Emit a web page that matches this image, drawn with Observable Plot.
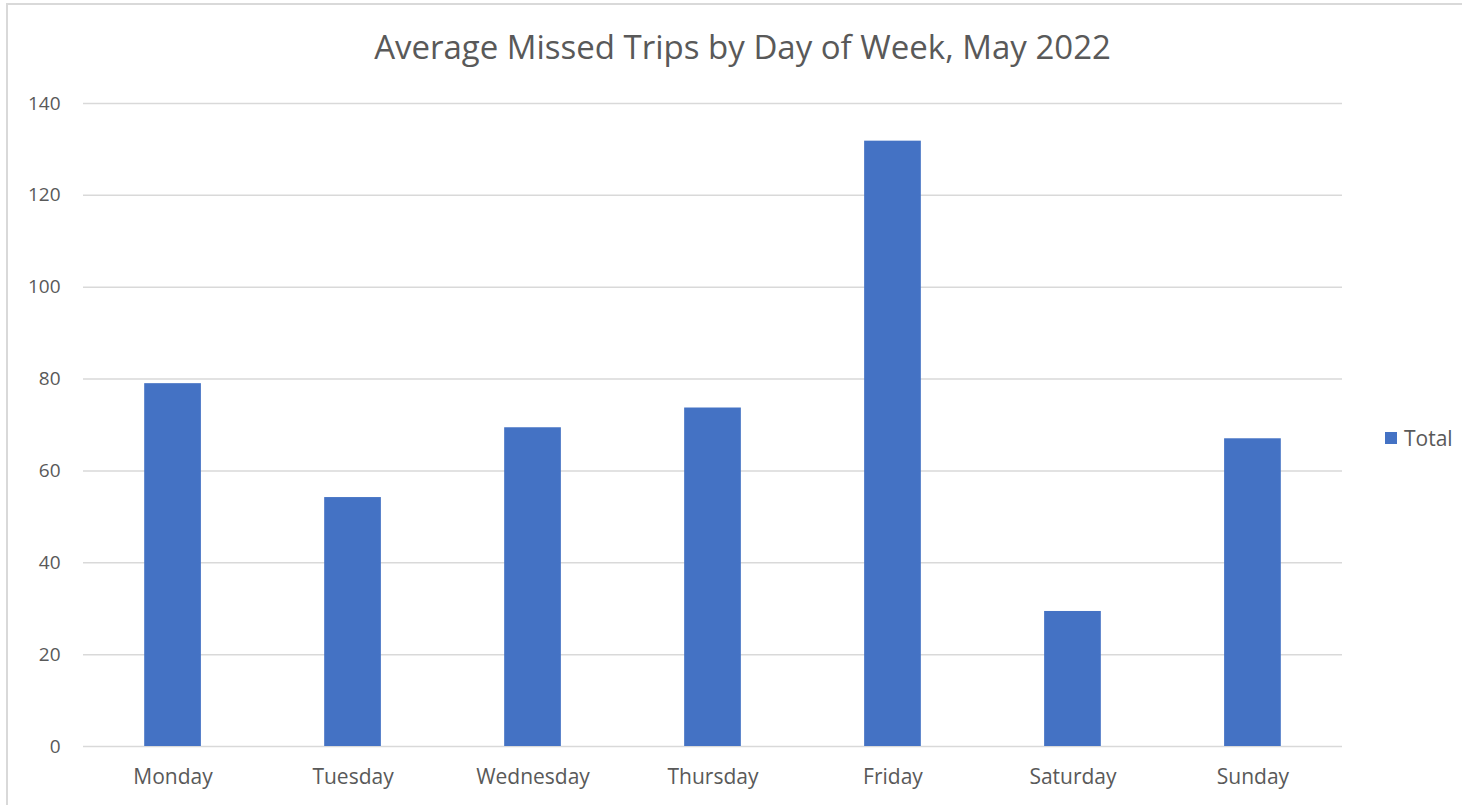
<!DOCTYPE html>
<html>
<head>
<meta charset="utf-8">
<script src="https://cdn.jsdelivr.net/npm/d3@7"></script>
<script src="https://cdn.jsdelivr.net/npm/@observablehq/plot@0.6"></script>
<style>
  html, body { margin: 0; padding: 0; background: #fff; }
  #wrap { position: relative; width: 1462px; height: 805px; overflow: hidden; font-family: "Open Sans", Lato, sans-serif; }
  #frame { position: absolute; left: 6px; top: 3px; width: 1470px; height: 820px; border: 2px solid #d9d9d9; box-sizing: border-box; }
  #title { position: absolute; left: 0; width: 1485px; top: 24px; text-align: center; font-size: 33px; line-height: 45px; color: #595959; white-space: nowrap; }
  #legend { position: absolute; left: 1385px; top: 424px; font-size: 21px; line-height: 28px; color: #595959; display: flex; align-items: center; }
  #legend span.sw { display: inline-block; width: 12px; height: 12px; background: #4472C4; margin-right: 7px; }
  #chart { position: absolute; left: 0; top: 0; }
</style>
</head>
<body>
<div id="wrap">
  <div id="frame"></div>
  <div id="chart"></div>
  <div id="title">Average Missed Trips by Day of Week, May 2022</div>
  <div id="legend"><span class="sw"></span>Total</div>
</div>
<script>
const days = ["Monday", "Tuesday", "Wednesday", "Thursday", "Friday", "Saturday", "Sunday"];
const totals = [79, 54.2, 69.4, 73.7, 131.8, 29.4, 67.0];
const yTicks = [0, 20, 40, 60, 80, 100, 120, 140];

const data = days.map((d, i) => ({day: d, total: totals[i]}));

const chart = Plot.plot({
  width: 1462,
  height: 805,
  marginLeft: 83,
  marginRight: 120,
  marginTop: 103,
  marginBottom: 59,
  style: {fontFamily: "'Open Sans', Lato, sans-serif", fontSize: "19px", color: "#595959", background: "transparent"},
  x: {domain: days, paddingInner: 0.685, paddingOuter: 0.34, round: false, label: null},
  y: {domain: [0, 140], label: null},
  marks: [
    Plot.ruleY(yTicks, {stroke: "#d9d9d9", strokeWidth: 1.5}),
    Plot.barY(data, {x: "day", y: "total", fill: "#4472C4"}),
    Plot.axisX({tickSize: 0, tickPadding: 23, fontSize: 21, label: null}),
    Plot.axisY({ticks: yTicks, tickSize: 0, tickPadding: 23, fontSize: 19, label: null})
  ]
});
document.getElementById("chart").appendChild(chart);
</script>
</body>
</html>
